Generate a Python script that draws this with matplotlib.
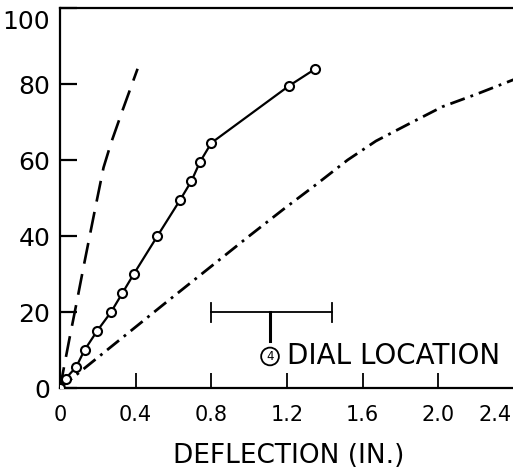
import matplotlib
matplotlib.use("Agg")
import matplotlib.pyplot as plt
import matplotlib.transforms as mtransforms

# --- datos ---
# curva medida (linea continua con circulos)
meas_x = [0.0, 0.03, 0.085, 0.13, 0.196, 0.27, 0.33, 0.39, 0.515, 0.635, 0.695, 0.74, 0.80, 1.21, 1.35]
meas_y = [0, 2.5, 5.5, 10, 15, 20, 25, 30, 40, 49.5, 54.5, 59.5, 64.5, 79.5, 84]

# curva discontinua (rayas)
dash_x = [0.0, 0.05, 0.09, 0.125, 0.185, 0.23, 0.27, 0.33, 0.41]
dash_y = [0, 13, 23, 32, 47, 58, 64.5, 73, 84]

# curva raya-punto
dd_x = [0.0, 0.56, 1.0, 1.18, 1.35, 1.52, 1.67, 1.84, 2.02, 2.2, 2.39, 2.5]
dd_y = [0, 22.5, 40, 47, 53.4, 60, 65, 69.4, 74, 77.3, 81, 83]

x_ticks = [0, 0.4, 0.8, 1.2, 1.6, 2.0, 2.4]
x_labels = ["0", "0.4", "0.8", "1.2", "1.6", "2.0", "2.4"]
y_ticks = [0, 20, 40, 60, 80, 100]

# rango del indicador de lectura (dial)
dial_left, dial_right, dial_mid, dial_y = 0.8, 1.44, 1.11, 20

plt.rcParams["font.family"] = ["DejaVu Sans"]

fig = plt.figure(figsize=(5.13, 4.72), dpi=100)
# el eje derecho queda fuera del recorte, como en el original
ax = fig.add_axes([60 / 513, 84 / 472, 473 / 513, 380 / 472])

ax.plot(dash_x, dash_y, color="black", lw=1.9, linestyle=(0, (8, 4)))
ax.plot(dd_x, dd_y, color="black", lw=2.0, linestyle=(0, (5.5, 2.2, 1, 2.2)))
ax.plot(meas_x, meas_y, color="black", lw=1.6, marker="o", ms=6.5,
        mfc="white", mec="black", mew=1.5, zorder=5)

# indicador del dial
ax.plot([dial_left, dial_right], [dial_y, dial_y], color="black", lw=1.3)
for xx in (dial_left, dial_right):
    ax.plot([xx, xx], [dial_y - 2.5, dial_y + 2.5], color="black", lw=1.3)
ax.plot([dial_mid, dial_mid], [dial_y, dial_y - 7.5], color="black", lw=2.2)
ax.text(dial_mid, 8.3, "4", ha="center", va="center", fontsize=8.5,
        bbox=dict(boxstyle="circle,pad=0.2", fc="white", ec="black", lw=1.3))
ax.text(dial_mid + 0.09, 8.3, "DIAL LOCATION", ha="left", va="center", fontsize=20)

ax.set_xlim(0, 2.5)
ax.set_ylim(0, 100)
ax.set_xticks(x_ticks)
ax.set_xticklabels(x_labels)
ax.set_yticks(y_ticks)

ax.tick_params(axis="y", direction="in", length=12, width=1.6, labelsize=18, pad=7)
ax.tick_params(axis="x", direction="in", length=11, width=1.3, labelsize=15, pad=12)

# ultima etiqueta x metida dentro del recorte; "100" un poco mas abajo
last = ax.get_xticklabels()[-1]
last.set_horizontalalignment("right")
last.set_transform(last.get_transform() + mtransforms.ScaledTranslation(-2 / 72, 0, fig.dpi_scale_trans))
top = ax.get_yticklabels()[-1]
top.set_transform(top.get_transform() + mtransforms.ScaledTranslation(0, -8 / 72, fig.dpi_scale_trans))

for s in ("left", "top", "bottom"):
    ax.spines[s].set_linewidth(1.6)
ax.spines["right"].set_visible(False)

ax.set_xlabel("DEFLECTION (IN.)", fontsize=19)
ax.xaxis.set_label_coords(229 / 473, -0.145)

fig.savefig("out.png", dpi=100)
